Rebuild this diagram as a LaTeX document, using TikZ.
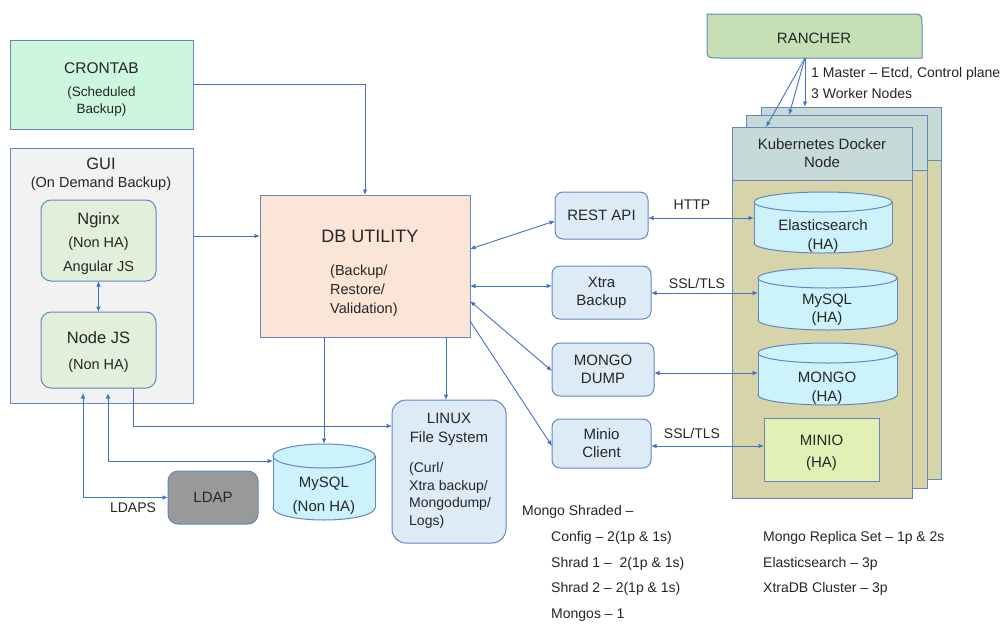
\documentclass[tikz,border=0pt]{standalone}
\usepackage{fontspec}
\setmainfont{Liberation Sans}
\usetikzlibrary{arrows.meta,calc}
\definecolor{lc}{RGB}{68,114,196}
\definecolor{bd}{RGB}{100,135,192}
\definecolor{txt}{RGB}{38,38,38}
\definecolor{mint}{RGB}{204,246,222}
\definecolor{guibg}{RGB}{242,242,242}
\definecolor{gr}{RGB}{226,239,218}
\definecolor{peach}{RGB}{251,229,214}
\definecolor{lb}{RGB}{221,235,247}
\definecolor{cy}{RGB}{204,242,252}
\definecolor{khead}{RGB}{198,218,216}
\definecolor{kbody}{RGB}{214,212,168}
\definecolor{miniof}{RGB}{226,240,182}
\definecolor{ranch}{RGB}{197,224,180}
\definecolor{ldapc}{RGB}{153,153,153}
\newcommand\cylshape[2]{%
  \path[draw=bd, line width=1pt, fill=cy] let \p1=(#1.west), \p2=(#1.east), \n1={(\x2-\x1)/2} in ($(#1.south)+(0,-#2)$) ellipse [x radius=\n1, y radius=#2pt];
  \fill[cy] ($(#1.north west)+(0,#2)$) rectangle ($(#1.south east)+(0,-#2)$);
  \draw[bd, line width=1pt] ($(#1.north west)+(0,#2)$) -- ($(#1.south west)+(0,-#2)$) ($(#1.north east)+(0,#2)$) -- ($(#1.south east)+(0,-#2)$);
  \path[draw=bd, line width=1pt, fill=cy] let \p1=(#1.west), \p2=(#1.east), \n1={(\x2-\x1)/2} in ($(#1.north)+(0,#2)$) ellipse [x radius=\n1, y radius=#2pt];
}
\begin{document}
\begin{tikzpicture}[x=1pt,y=-1pt,
  every node/.style={text=txt, font=\fontsize{15}{18}\selectfont},
  box/.style={draw=bd, line width=1pt, anchor=north west, inner sep=0pt, outer sep=0pt, align=center},
  frame/.style={draw=none, anchor=north west, inner sep=0pt, outer sep=0pt},
  arr/.style={draw=lc, line width=0.9pt, -{Latex[length=5.5pt,width=4.5pt]}},
  darr/.style={draw=lc, line width=0.9pt, {Latex[length=5.5pt,width=4.5pt]}-{Latex[length=5.5pt,width=4.5pt]}},
  note/.style={anchor=west, inner sep=0pt, font=\fontsize{14}{16}\selectfont},
]
\fill[white] (0,0) rectangle (1006,624);
\useasboundingbox (0,0) rectangle (1006,624);

% left side
\node[box, fill=mint, minimum width=183pt, minimum height=89pt] (crontab) at (10,40) {};
\node[align=center, inner sep=0pt, font=\fontsize{13.5}{17}\selectfont] (crontabT) at (101.5,89.5)
  {\fontsize{15.5}{17}\selectfont CRONTAB\\[6pt]\fontsize{13.5}{17}\selectfont(Scheduled\\Backup)};
\node[box, fill=guibg, minimum width=183pt, minimum height=255pt] (gui) at (10,148) {};
\node[align=center, inner sep=0pt] (guiT) at (101,174)
  {\fontsize{16.5}{21}\selectfont GUI\\\fontsize{14.5}{21}\selectfont(On Demand Backup)};
\node[box, fill=gr, rounded corners=10pt, minimum width=115pt, minimum height=81pt] (nginx) at (41,200) {};
\node[align=center, inner sep=0pt, font=\fontsize{14.5}{23.5}\selectfont] (nginxT) at (98.5,243.5)
  {\fontsize{16.5}{23.5}\selectfont Nginx\\\fontsize{14.5}{23.5}\selectfont(Non HA)\\Angular JS};
\node[box, fill=gr, rounded corners=10pt, minimum width=115pt, minimum height=76pt] (nodejs) at (41,312) {};
\node[align=center, inner sep=0pt, font=\fontsize{14.5}{26}\selectfont] (nodejsT) at (98.5,352.5)
  {\fontsize{16.5}{26}\selectfont Node JS\\\fontsize{14.5}{26}\selectfont(Non HA)};

% DB utility
\node[box, fill=peach, minimum width=210pt, minimum height=142pt] (db) at (260,195) {};
\node[inner sep=0pt, font=\fontsize{18}{20}\selectfont] (dbT) at (370,236) {DB UTILITY};
\node[anchor=west, align=left, inner sep=0pt, font=\fontsize{14.5}{19}\selectfont] (dbS) at (330,291)
  {(Backup/\\Restore/\\Validation)};

% tools
\node[box, fill=lb, rounded corners=8pt, minimum width=93pt, minimum height=47pt] (rest) at (555,192) {REST API};
\node[box, fill=lb, rounded corners=8pt, minimum width=99pt, minimum height=53pt] (xtra) at (552,266) {Xtra\\Backup};
\node[box, fill=lb, rounded corners=8pt, minimum width=102pt, minimum height=53pt] (mdump) at (552,343) {MONGO\\DUMP};
\node[box, fill=lb, rounded corners=8pt, minimum width=99pt, minimum height=49pt] (minioc) at (552,419) {Minio\\Client};

% bottom
\node[box, fill=lb, rounded corners=14pt, minimum width=114pt, minimum height=143pt] (linux) at (392,400) {};
\node[align=center, inner sep=0pt, font=\fontsize{15}{19}\selectfont] (linT) at (449,429.5) {LINUX\\File System};
\node[anchor=west, align=left, inner sep=0pt, font=\fontsize{14}{17.7}\selectfont] (linS) at (409,495.5)
  {(Curl/\\Xtra backup/\\Mongodump/\\Logs)};
\node[box, fill=ldapc, rounded corners=10pt, minimum width=90pt, minimum height=53pt] (ldap) at (168,471) {LDAP};
\node[frame, minimum width=102pt, minimum height=76pt] (mysqlnh) at (273,444) {};
\cylshape{mysqlnh}{12}
\node[align=center, inner sep=0pt, font=\fontsize{15}{23.5}\selectfont] (mysqlnhT) at (324,496) {MySQL\\(Non HA)};
\node[inner sep=0pt, font=\fontsize{14}{16}\selectfont] (ldaps) at (133,508) {LDAPS};

% Kubernetes pages
\node[box, fill=kbody, minimum width=180pt, minimum height=372pt] (kback) at (761,107) {};
\node[box, fill=khead, minimum width=180pt, minimum height=53pt] (kbackH) at (761,107) {};
\node[box, fill=kbody, minimum width=181pt, minimum height=373pt] (kmid) at (746,115) {};
\node[box, fill=khead, minimum width=181pt, minimum height=55pt] (kmidH) at (746,115) {};
\node[box, fill=kbody, minimum width=180pt, minimum height=371pt] (kfront) at (732,127) {};
\node[box, fill=khead, minimum width=180pt, minimum height=53pt] (kfrontH) at (732,127) {Kubernetes Docker\\Node};

\node[frame, minimum width=138pt, minimum height=61pt] (es) at (754,192) {};
\cylshape{es}{10}
\node[align=center, inner sep=0pt, font=\fontsize{15}{19}\selectfont] (esT) at (823,236.5) {Elasticsearch\\(HA)};
\node[frame, minimum width=139pt, minimum height=62pt] (mysqlha) at (758,268) {};
\cylshape{mysqlha}{10}
\node[align=center, inner sep=0pt, font=\fontsize{15}{18}\selectfont] (mysqlhaT) at (827,310) {MySQL\\(HA)};
\node[frame, minimum width=139pt, minimum height=62pt] (mongo) at (758,343) {};
\cylshape{mongo}{10}
\node[align=center, inner sep=0pt, font=\fontsize{15}{19}\selectfont] (mongoT) at (827,388) {MONGO\\(HA)};
\node[box, fill=miniof, minimum width=115pt, minimum height=63pt] (minio) at (764,418) {};
\node[align=center, inner sep=0pt, font=\fontsize{15}{22}\selectfont] (minioT) at (821.5,452.5) {MINIO\\(HA)};

% Rancher
\node[frame, minimum width=215pt, minimum height=44pt] (rancher) at (707,14) {};
\draw[draw=bd, line width=1pt, fill=ranch] (rancher.north west) -- ($(rancher.north east)+(-12,0)$)
  .. controls (rancher.north east) .. ($(rancher.north east)+(0,12)$) -- (rancher.south east)
  -- ($(rancher.south west)+(12,0)$) .. controls (rancher.south west) .. ($(rancher.south west)+(0,-12)$) -- cycle;
\node[inner sep=0pt] (rancherT) at (814,38) {RANCHER};
\node[note] (rn1) at (811,74) {1 Master – Etcd, Control plane};
\node[note] (rn2) at (811,93) {3 Worker Nodes};

% connectors
\draw[arr] (crontab.east) -| (db.north);
\draw[arr] (gui.east |- 0,236) -- (db.west |- 0,236);
\draw[darr] (nginx.south) -- (nodejs.north);
\draw[darr] (db.east |- 0,249) -- (rest.west |- 0,221);
\draw[darr] (db.east |- 0,286) -- (xtra.west |- 0,286);
\draw[darr] (db.east |- 0,301) -- (mdump.west |- 0,371);
\draw[arr] (db.east |- 0,321) -- (minioc.west |- 0,446);
\draw[darr] (rest.east |- 0,218) -- (es.west |- 0,218);
\draw[darr] (xtra.east |- 0,293) -- (mysqlha.west |- 0,293);
\draw[darr] (mdump.east |- 0,373) -- (mongo.west |- 0,373);
\draw[darr] (minioc.east |- 0,446) -- (minio.west |- 0,446);
\node[inner sep=0pt, font=\fontsize{14}{16}\selectfont] (http) at (692,205) {HTTP};
\node[inner sep=0pt, font=\fontsize{14}{16}\selectfont] (ssl1) at (697,283) {SSL/TLS};
\node[inner sep=0pt, font=\fontsize{14}{16}\selectfont] (ssl2) at (692,433) {SSL/TLS};

\draw[arr] (db.south -| mysqlnh.north) -- (mysqlnh.north);
\draw[arr] (db.south -| 446,0) -- (linux.north -| 446,0);
\draw[arr] (nodejs.south -| 133,0) |- (linux.west |- 0,426);
\draw[darr, shorten <=5pt] (nodejs.south -| 108,0) |- (mysqlnh.west |- 0,461);
\draw[darr, shorten <=5pt] (nodejs.south -| 83,0) |- (ldap.west);

\draw[arr] (rancher.south -| 805,0) -- (kback.north -| 805,0);
\draw[arr] (rancher.south -| 805,0) -- (kmid.north -| 789,0);
\draw[arr] (rancher.south -| 805,0) -- (kfront.north -| 766,0);

% notes
\node[note] (m0) at (522,512) {Mongo Shraded –};
\node[note] (m1) at (551,538) {Config – 2(1p \& 1s)};
\node[note] (m2) at (551,564) {Shrad 1 –\ \ 2(1p \& 1s)};
\node[note] (m3) at (551,589) {Shrad 2 – 2(1p \& 1s)};
\node[note] (m4) at (551,615) {Mongos – 1};
\node[note] (r1) at (763,538) {Mongo Replica Set – 1p \& 2s};
\node[note] (r2) at (763,564) {Elasticsearch – 3p};
\node[note] (r3) at (763,589) {XtraDB Cluster – 3p};
\end{tikzpicture}
\end{document}
